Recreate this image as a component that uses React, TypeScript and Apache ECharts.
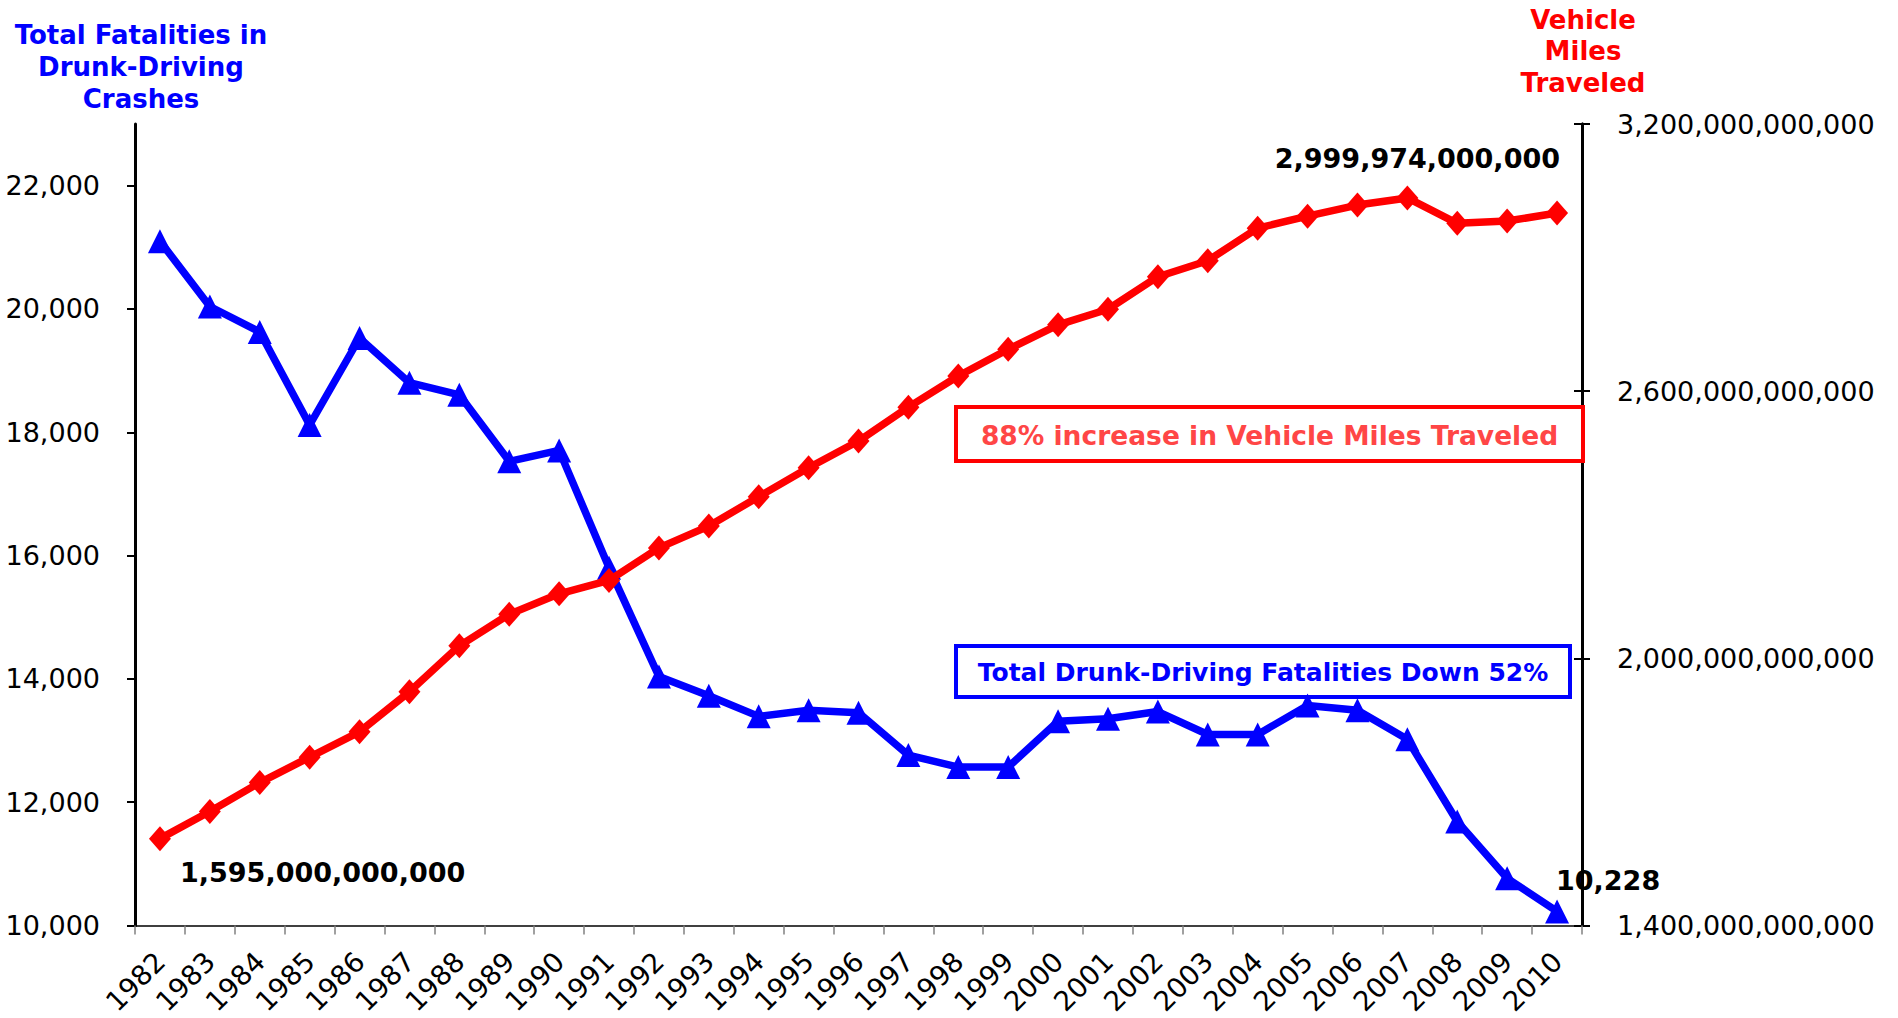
import React, { useEffect, useRef } from "react";
import * as echarts from "echarts";

const years = [
  "1982", "1983", "1984", "1985", "1986", "1987", "1988", "1989", "1990", "1991",
  "1992", "1993", "1994", "1995", "1996", "1997", "1998", "1999", "2000", "2001",
  "2002", "2003", "2004", "2005", "2006", "2007", "2008", "2009", "2010",
];

const fatalities = [
  21100, 20040, 19627, 18118, 19529, 18804, 18608, 17529, 17706, 15804,
  14039, 13725, 13392, 13490, 13451, 12765, 12569, 12569, 13314, 13353,
  13470, 13098, 13099, 13569, 13490, 13020, 11686, 10765, 10228,
];

const vehicleMiles = [
  1595e9, 1656e9, 1721e9, 1778e9, 1835e9, 1925e9, 2028e9, 2099e9, 2145e9, 2175e9,
  2248e9, 2297e9, 2363e9, 2428e9, 2488e9, 2564e9, 2634e9, 2694e9, 2749e9, 2784e9,
  2857e9, 2893e9, 2966e9, 2993e9, 3018e9, 3034e9, 2977e9, 2982e9, 2999974e6,
];

const leftTicks = [10000, 12000, 14000, 16000, 18000, 20000, 22000];
const rightTicks = [1.4e12, 2.0e12, 2.6e12, 3.2e12];

const FONT = "'DejaVu Sans', Verdana, sans-serif";
const fmt = (v: number) => Math.round(v).toLocaleString("en-US");

function txt(
  text: string,
  x: number,
  y: number,
  size: number,
  fill: string,
  align: string,
  lineHeight?: number
) {
  return {
    type: "text",
    x,
    y,
    z: 100,
    style: {
      text,
      fill,
      fontSize: size,
      fontWeight: "bold",
      fontFamily: FONT,
      align,
      verticalAlign: "middle",
      textAlign: align,
      textVerticalAlign: "middle",
      lineHeight: lineHeight || size * 1.2,
    },
  };
}

export default function App() {
  const ref = useRef<HTMLDivElement>(null);

  useEffect(() => {
    if (!ref.current) return;
    const chart = echarts.init(ref.current, null, { renderer: "svg" });
    const rightAxisBase = {
      type: "value",
      position: "right",
      min: 1.4e12,
      max: 3.2e12,
      interval: 0.6e12,
      splitLine: { show: false },
      axisLine: { show: true, lineStyle: { color: "#000", width: 3 } },
    };
    chart.setOption({
      animation: false,
      backgroundColor: "#fff",
      grid: { left: 135, right: 316, top: 124, bottom: 92, containLabel: false },
      xAxis: {
        type: "category",
        data: years,
        boundaryGap: true,
        axisLine: { show: true, lineStyle: { color: "#000", width: 1.5 } },
        axisTick: { show: true, length: 9, lineStyle: { color: "#808080", width: 1.5 } },
        axisLabel: {
          rotate: 45,
          interval: 0,
          fontSize: 27.5,
          color: "#000",
          fontFamily: FONT,
          margin: 31,
        },
        splitLine: { show: false },
      },
      yAxis: [
        {
          type: "value",
          position: "left",
          min: 10000,
          max: 23000,
          interval: 2000,
          splitLine: { show: false },
          axisLine: { show: true, lineStyle: { color: "#000", width: 3 } },
          axisTick: {
            show: true,
            length: 8,
            customValues: leftTicks,
            lineStyle: { color: "#000", width: 2 },
          },
          axisLabel: {
            customValues: leftTicks,
            formatter: (v: number) => fmt(v),
            fontSize: 27,
            color: "#000",
            fontFamily: FONT,
            margin: 35,
          },
        },
        {
          ...rightAxisBase,
          axisTick: {
            show: true,
            length: 8,
            customValues: rightTicks,
            lineStyle: { color: "#000", width: 2 },
          },
          axisLabel: {
            customValues: rightTicks,
            formatter: (v: number) => fmt(v),
            fontSize: 27,
            color: "#000",
            fontFamily: FONT,
            margin: 35,
          },
        },
        {
          ...rightAxisBase,
          axisTick: {
            show: true,
            inside: true,
            length: 8,
            customValues: rightTicks,
            lineStyle: { color: "#000", width: 2 },
          },
          axisLabel: { show: false },
        },
      ],
      series: [
        {
          name: "Fatalities",
          type: "line",
          yAxisIndex: 0,
          data: fatalities,
          symbol: "triangle",
          symbolSize: 24,
          showSymbol: true,
          showAllSymbol: true,
          itemStyle: { color: "#0000ff" },
          lineStyle: { color: "#0000ff", width: 7.5 },
          z: 2,
        },
        {
          name: "Vehicle Miles Traveled",
          type: "line",
          yAxisIndex: 1,
          data: vehicleMiles,
          symbol: "diamond",
          symbolSize: [22, 25],
          showSymbol: true,
          showAllSymbol: true,
          itemStyle: { color: "#ff0000" },
          lineStyle: { color: "#ff0000", width: 7.5 },
          z: 3,
        },
      ],
      graphic: [
        txt("Total Fatalities in\nDrunk-Driving\nCrashes", 141, 67, 26, "#0000ff", "center", 32),
        txt("Vehicle\nMiles\nTraveled", 1583, 51, 26, "#ff0000", "center", 31.5),
        txt("1,595,000,000,000", 180, 872, 27, "#000", "left"),
        txt("2,999,974,000,000", 1560, 158, 27, "#000", "right"),
        txt("10,228", 1556, 880, 27, "#000", "left"),
        {
          type: "rect",
          z: 90,
          shape: { x: 956, y: 407, width: 627, height: 54 },
          style: { fill: "none", stroke: "#ff0000", lineWidth: 4 },
        },
        txt("88% increase in Vehicle Miles Traveled", 1269.5, 435, 26.5, "#ff4646", "center"),
        {
          type: "rect",
          z: 90,
          shape: { x: 956, y: 646, width: 614, height: 51 },
          style: { fill: "none", stroke: "#0000ff", lineWidth: 4 },
        },
        txt("Total Drunk-Driving Fatalities Down 52%", 1263, 672, 25, "#0000ff", "center"),
      ],
    });
    return () => chart.dispose();
  }, []);

  return (
    <div
      ref={ref}
      style={{ position: "fixed", left: 0, top: 0, width: 1898, height: 1018, background: "#fff" }}
    />
  );
}
